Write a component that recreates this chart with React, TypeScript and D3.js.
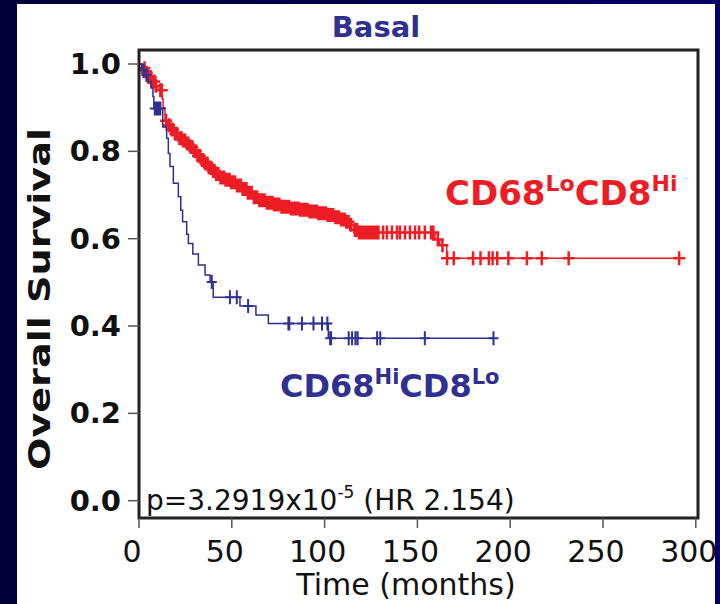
import React from "react";
import * as d3 from "d3";

const xTicks = [0, 50, 100, 150, 200, 250, 300];
const yTicks = [0, 0.2, 0.4, 0.6, 0.8, 1.0];
const yTickLabels = ["0.0", "0.2", "0.4", "0.6", "0.8", "1.0"];

// CD68Lo CD8Hi (red): step times in months, survival after each step
const redTimes = [0, 2, 3.5, 5, 7, 9, 10.2, 12.5, 13, 14, 15.5, 17, 19, 21, 23, 25, 27, 29, 31, 33, 35, 37, 39, 41, 43, 46, 49, 52, 55, 58, 61, 64, 68, 72, 76, 81, 86, 91, 96, 101, 105, 108, 111, 113.5, 115.5, 118, 159.5, 162, 165.8];
const redSurv = [1.0, 0.99, 0.98, 0.97, 0.96, 0.95, 0.94, 0.92, 0.9, 0.87, 0.86, 0.85, 0.84, 0.83, 0.825, 0.818, 0.81, 0.8, 0.79, 0.78, 0.772, 0.763, 0.755, 0.748, 0.74, 0.735, 0.729, 0.722, 0.714, 0.705, 0.695, 0.688, 0.682, 0.678, 0.673, 0.669, 0.666, 0.662, 0.658, 0.654, 0.649, 0.644, 0.639, 0.632, 0.62, 0.614, 0.598, 0.585, 0.555];
const redEnd = 293;
const redCensor = [3, 4.2, 5.1, 6.3, 7.4, 8.2, 9.1, 11.5, 12.3, 14.6, 16.2, 17.5, 18.3, 19.6, 20.4, 21.8, 22.9, 23.7, 24.8, 25.9, 26.6, 27.8, 28.7, 29.9, 30.6, 31.8, 32.7, 33.9, 34.5, 35.8, 36.9, 37.6, 38.8, 39.9, 40.7, 41.6, 42.8, 43.9, 44.7, 45.8, 46.6, 47.9, 48.8, 49.6, 50.9, 51.7, 52.8, 53.6, 54.9, 55.8, 56.7, 57.9, 58.6, 59.8, 60.7, 61.9, 62.8, 63.6, 64.9, 65.7, 66.8, 67.6, 68.9, 69.8, 70.6, 71.9, 72.7, 73.8, 74.9, 75.6, 76.8, 77.7, 78.9, 79.6, 80.8, 81.9, 82.6, 83.8, 84.7, 85.9, 86.8, 87.6, 88.9, 89.7, 90.8, 91.9, 92.6, 93.8, 94.7, 95.9, 96.6, 97.8, 98.9, 99.7, 100.8, 101.6, 102.9, 103.8, 104.6, 105.9, 106.8, 107.7, 108.9, 109.6, 110.8, 111.7, 112.9, 114.2, 116.4, 117.6, 118.5, 119.7, 120.6, 121.8, 122.7, 123.9, 124.8, 125.6, 126.9, 127.8, 129, 131.5, 133.6, 136.3, 139, 140.6, 143.3, 146, 148.7, 150.9, 154, 157.3, 158.6, 161, 163.5, 166, 169.6, 180, 184, 188.5, 190.5, 193, 199, 209, 217, 231.5, 291];

// CD68Hi CD8Lo (blue)
const blueTimes = [0, 1.5, 3, 5, 6.5, 7.5, 8, 12.8, 14.9, 15.8, 16.7, 18.5, 21.2, 22.5, 23.5, 25.7, 26.6, 29, 32, 35.6, 38.3, 40, 54.4, 63, 69.7, 102];
const blueSurv = [1.0, 0.985, 0.975, 0.96, 0.945, 0.925, 0.898, 0.856, 0.83, 0.795, 0.765, 0.727, 0.696, 0.665, 0.639, 0.61, 0.589, 0.565, 0.54, 0.517, 0.501, 0.466, 0.446, 0.425, 0.406, 0.372];
const blueEnd = 191;
const blueCensor = [2.5, 4, 8.5, 9.5, 10.5, 11.5, 39.2, 49, 52.7, 58.8, 80.5, 81, 87.8, 94, 98.6, 101.5, 103, 103.5, 113, 114.8, 116.6, 117.8, 128.3, 130, 154, 191];

const RED = "#ee1c25";
const BLUE = "#2e3192";
const FONT = "DejaVu Sans, sans-serif";

const x = d3.scaleLinear().domain([0, 300]).range([139, 695.8]);
const y = d3.scaleLinear().domain([0, 1]).range([500.7, 64]);

function stepPath(times: number[], surv: number[], end: number) {
  const pts: [number, number][] = times.map((t, i) => [t, surv[i]]);
  pts.push([end, surv[surv.length - 1]]);
  return d3
    .line<[number, number]>()
    .x((d) => x(d[0]))
    .y((d) => y(d[1]))
    .curve(d3.curveStepAfter)(pts) as string;
}

function survAt(times: number[], surv: number[], t: number) {
  const i = d3.bisectRight(times, t) - 1;
  return surv[Math.max(0, i)];
}

function censorPath(times: number[], surv: number[], cens: number[], hw: number, hh: number) {
  return cens
    .map((t) => {
      const cx = x(t);
      const cy = y(survAt(times, surv, t));
      return `M${cx - hw},${cy}h${hw * 2}M${cx},${cy - hh}v${hh * 2}`;
    })
    .join("");
}

export default function App() {
  return (
    <svg width={720} height={604} style={{ position: "absolute", left: 0, top: 0 }}>
      <defs>
        <linearGradient id="bg" x1="0" x2="1" y1="0" y2="0">
          <stop offset="0" stopColor="#000038" />
          <stop offset="1" stopColor="#000066" />
        </linearGradient>
      </defs>
      <rect x={0} y={0} width={720} height={604} fill="url(#bg)" />
      <rect x={17} y={4} width={698} height={600} fill="#ffffff" />

      <text x={376} y={37} textAnchor="middle" fontFamily={FONT} fontWeight="bold" fontSize={29} fill={BLUE}>
        Basal
      </text>

      {/* curves */}
      <path d={stepPath(redTimes, redSurv, redEnd)} fill="none" stroke={RED} strokeWidth={1.5} />
      <path d={censorPath(redTimes, redSurv, redCensor, 6, 7)} fill="none" stroke={RED} strokeWidth={2.5} />
      <path d={stepPath(blueTimes, blueSurv, blueEnd)} fill="none" stroke={BLUE} strokeWidth={1.5} />
      <path d={censorPath(blueTimes, blueSurv, blueCensor, 5, 7)} fill="none" stroke={BLUE} strokeWidth={2} />

      {/* frame */}
      <rect x={139} y={50} width={559} height={468} fill="none" stroke="#222" strokeWidth={3} />

      {/* y axis */}
      {yTicks.map((v, i) => (
        <g key={v}>
          <line x1={128} x2={139} y1={y(v)} y2={y(v)} stroke="#555" strokeWidth={1.5} />
          <text x={121} y={y(v) + 10} textAnchor="end" fontFamily={FONT} fontWeight="bold" fontSize={29} fill="#111">
            {yTickLabels[i]}
          </text>
        </g>
      ))}
      <text
        transform="translate(50,299) rotate(-90)"
        textAnchor="middle"
        fontFamily={FONT}
        fontWeight="bold"
        fontSize={30}
        fill="#111"
        textLength={342}
        lengthAdjust="spacingAndGlyphs"
      >
        Overall Survival
      </text>

      {/* x axis */}
      {xTicks.map((v) => (
        <g key={v}>
          <line x1={x(v)} x2={x(v)} y1={518} y2={528} stroke="#555" strokeWidth={1.5} />
          <text x={x(v) - 7} y={562} textAnchor="middle" fontFamily={FONT} fontSize={30} fill="#111">
            {v}
          </text>
        </g>
      ))}
      <text x={406} y={595} textAnchor="middle" fontFamily={FONT} fontSize={30} fill="#111">
        Time (months)
      </text>

      {/* annotations */}
      <text x={146} y={510} fontFamily={FONT} fontSize={28} fill="#111">
        p=3.2919x10
        <tspan fontSize={17} dy={-12}>-5</tspan>
        <tspan dy={12}> (HR 2.154)</tspan>
      </text>
      <text x={445} y={205} fontFamily={FONT} fontWeight="bold" fontSize={34} fill={RED}>
        CD68
        <tspan fontSize={22} dy={-14}>Lo</tspan>
        <tspan dy={14}>CD8</tspan>
        <tspan fontSize={22} dy={-14}>Hi</tspan>
      </text>
      <text x={280} y={397} fontFamily={FONT} fontWeight="bold" fontSize={32} fill={BLUE}>
        CD68
        <tspan fontSize={21} dy={-13}>Hi</tspan>
        <tspan dy={13}>CD8</tspan>
        <tspan fontSize={21} dy={-13}>Lo</tspan>
      </text>
    </svg>
  );
}
